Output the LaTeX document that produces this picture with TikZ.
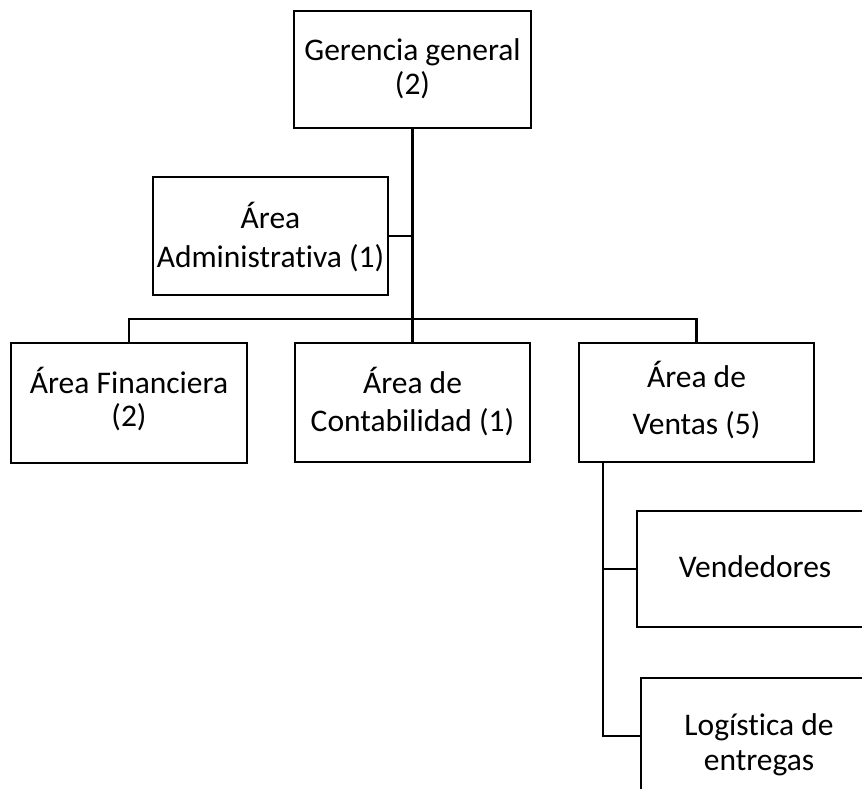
\documentclass[tikz,border=0pt]{standalone}
\usepackage{fontspec}
\setmainfont{Carlito}[Ligatures={NoCommon}]
\begin{document}
\begin{tikzpicture}[x=1pt,y=-1pt,
  box/.style={draw=black, line width=2.8pt, inner sep=0pt, minimum width=#1, minimum height=118pt},
  box/.default=236pt,
  lbl/.style={anchor=base, inner sep=0pt, font=\fontsize{31.5}{31.5}\selectfont},
  conn/.style={draw=black, line width=2.8pt}]
\useasboundingbox (0,0) rectangle (862,789);
\clip (0,0) rectangle (862,789);
% boxes
\node[box=237pt, minimum height=117pt] (g) at (412.5,69.5) {};
\node[box=235pt] (adm) at (270.5,236) {};
\node[box=236pt, minimum height=120pt] (fin) at (129,403) {};
\node[box=235pt, minimum height=119pt] (con) at (412.5,402.5) {};
\node[box=235pt, minimum height=119pt] (ven) at (696.5,402.5) {};
\node[box=236pt, minimum height=116pt] (vnd) at (755,569) {};
\node[box=236pt, minimum height=116pt] (log) at (759,736) {};
% texts
\node[lbl] (gt1) at (412.5,61) {Gerencia general};
\node[lbl] (gt2) at (412.5,95) {(2)};
\node[lbl] (at1) at (270.5,228) {Área};
\node[lbl] (at2) at (270.5,267) {Administrativa (1)};
\node[lbl] (ft1) at (129,393) {Área Financiera};
\node[lbl] (ft2) at (129,426) {(2)};
\node[lbl] (ct1) at (412.5,393) {Área de};
\node[lbl] (ct2) at (412.5,431) {Contabilidad (1)};
\node[lbl] (vt1) at (696.5,387) {Área de};
\node[lbl] (vt2) at (696.5,434) {Ventas (5)};
\node[lbl] (ndt) at (755,577) {Vendedores};
\node[lbl] (lt1) at (759,735) {Logística de};
\node[lbl] (lt2) at (759,770) {entregas};
% connectors
\coordinate (bus) at (412.5,319);
\coordinate (vtop) at (603,462);
\draw[conn] (g.south) -- (con.north);
\draw[conn] (adm.east) -- (adm.east -| g.south);
\draw[conn] (fin.north) -- (fin.north |- bus) -- (ven.north |- bus) -- (ven.north);
\draw[conn] (vtop) |- (log.west);
\draw[conn] (vtop |- vnd.west) -- (vnd.west);
\end{tikzpicture}
\end{document}
